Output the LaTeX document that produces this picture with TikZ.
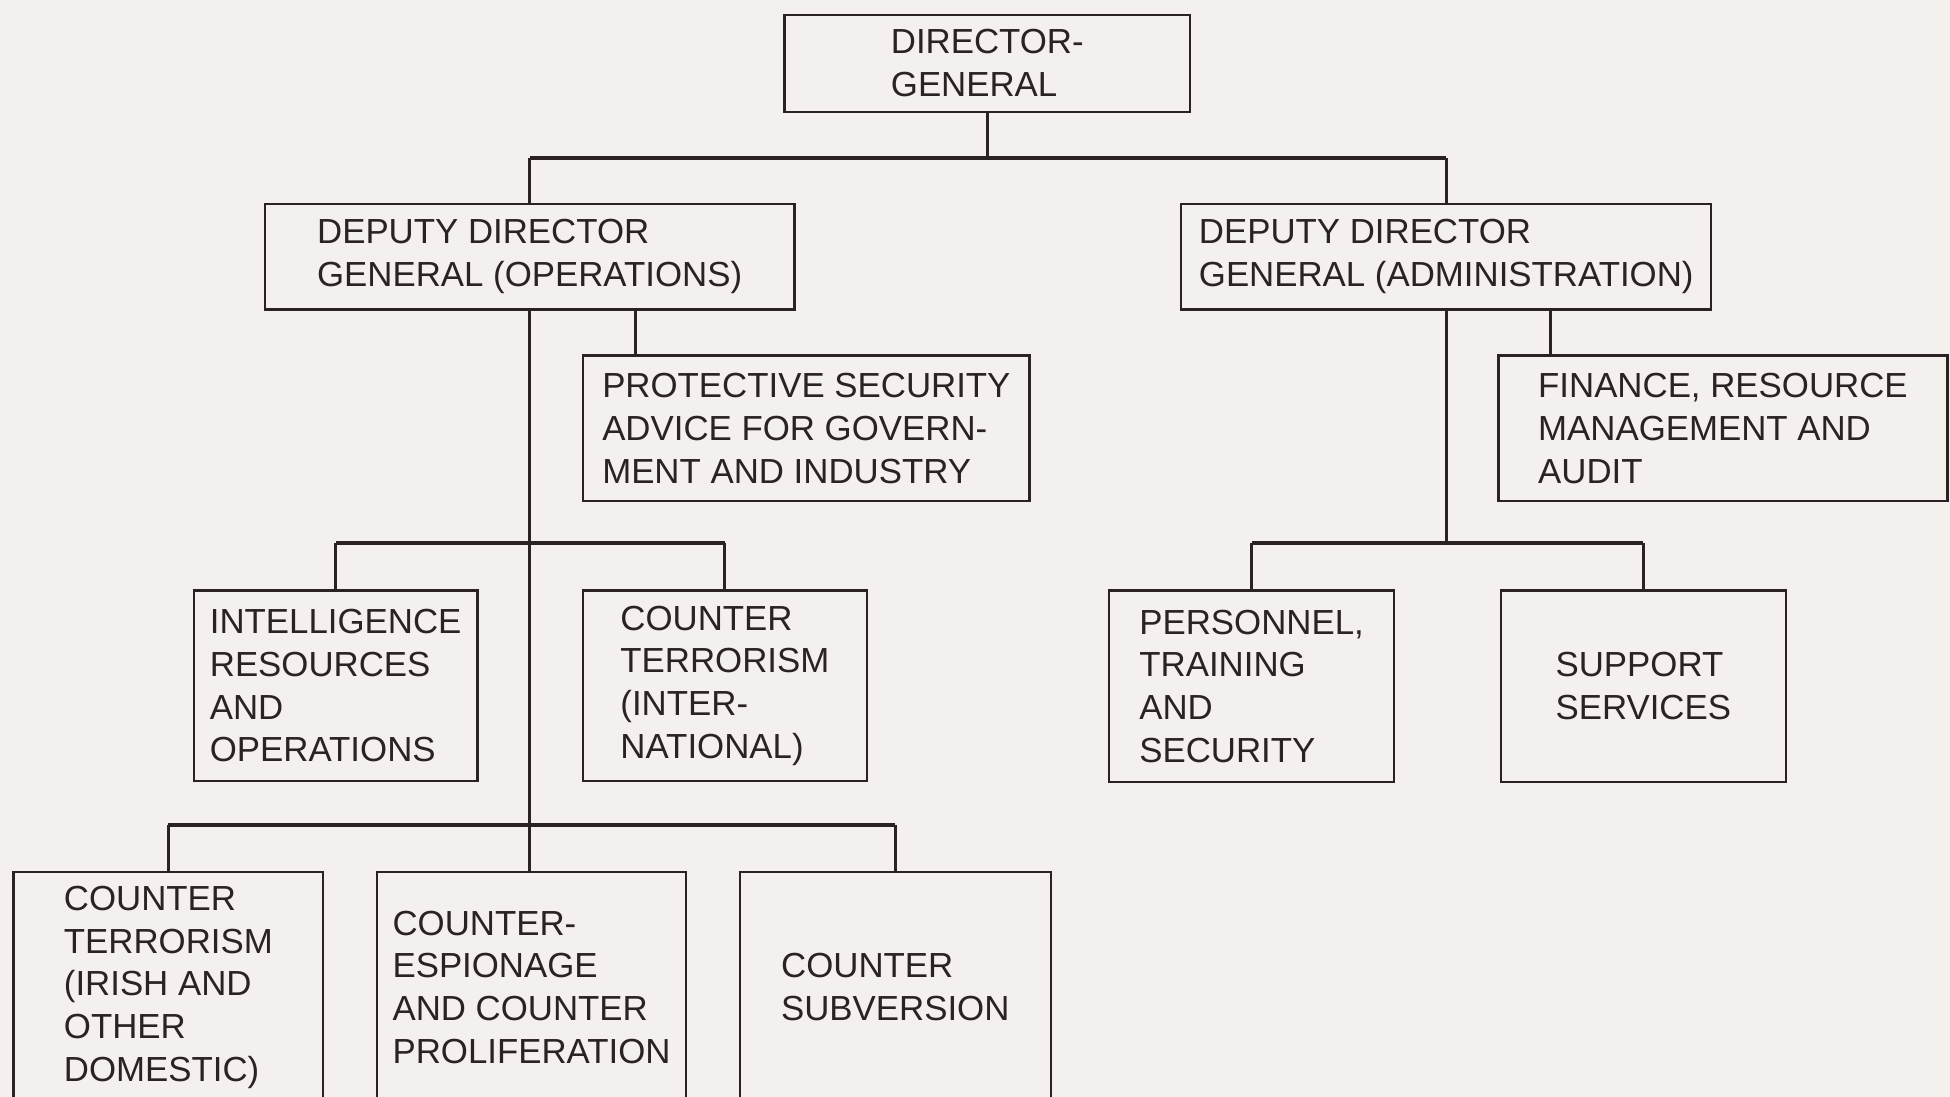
\documentclass[tikz,border=0pt]{standalone}
\usepackage{fontspec}
\setmainfont{Liberation Sans}
\definecolor{bg}{HTML}{F3F0EE}
\definecolor{ink}{HTML}{2A2223}
\begin{document}
\begin{tikzpicture}[x=0.5pt,y=-0.5pt,
  box/.style={draw=ink,line width=0.9pt,rectangle,inner sep=0pt,align=left,
    text=ink,font=\fontsize{14}{17.2}\selectfont,anchor=north west},
  wire/.style={draw=ink,line width=1.2pt},
  bar/.style={draw=ink,line width=1.6pt}]
\fill[bg] (0,0) rectangle (1568,882);
\clip (0,0) rectangle (1568,882);
% boxes
\node[box,minimum width=163pt,minimum height=39pt] (dg) at (630,11) {DIRECTOR-\\GENERAL};
\node[box,minimum width=213pt,minimum height=42.5pt] (ops) at (212,163) {DEPUTY DIRECTOR\\GENERAL (OPERATIONS)};
\node[box,minimum width=213pt,minimum height=42.5pt] (adm) at (949,163) {DEPUTY DIRECTOR\\GENERAL (ADMINISTRATION)};
\node[box,minimum width=179.5pt,minimum height=58.5pt] (prot) at (468,285) {PROTECTIVE SECURITY\\ADVICE FOR GOVERN-\\MENT AND INDUSTRY};
\node[box,minimum width=180.5pt,minimum height=58.5pt] (fin) at (1204,285) {FINANCE, RESOURCE\\MANAGEMENT AND\\AUDIT};
\node[box,minimum width=114pt,minimum height=76.5pt] (intel) at (155,474) {INTELLIGENCE\\RESOURCES\\AND\\OPERATIONS};
\node[box,minimum width=114pt,minimum height=76.5pt] (cti) at (468,474) {COUNTER\\TERRORISM\\(INTER-\\NATIONAL)};
\node[box,minimum width=114.5pt,minimum height=77pt] (pers) at (891,474) {PERSONNEL,\\TRAINING\\AND\\SECURITY};
\node[box,minimum width=114.5pt,minimum height=77pt] (supp) at (1206,474) {SUPPORT\\SERVICES};
\node[box,minimum width=124.5pt,minimum height=93pt] (ctirish) at (10,700) {COUNTER\\TERRORISM\\(IRISH AND\\OTHER\\DOMESTIC)};
\node[box,minimum width=124.5pt,minimum height=93pt] (ce) at (302,700) {COUNTER-\\ESPIONAGE\\AND COUNTER\\PROLIFERATION};
\node[box,minimum width=125pt,minimum height=93pt] (cs) at (594,700) {COUNTER\\SUBVERSION};
% junction coordinates
\coordinate (j1) at (dg.south |- 0,127);
\coordinate (j2) at (ops.south |- 0,437);
\coordinate (j3) at (ops.south |- 0,663);
\coordinate (j4) at (adm.south |- 0,437);
% top level
\draw[wire] (dg.south) -- (j1);
\draw[bar] (j1 -| ops.north) -- (j1 -| adm.north);
\draw[wire] (j1 -| ops.north) -- (ops.north);
\draw[wire] (j1 -| adm.north) -- (adm.north);
% operations
\draw[wire] (ops.south) -- (j3);
\draw[wire] (ops.south -| 511,0) -- (prot.north -| 511,0);
\draw[bar] (j2 -| intel.north) -- (j2 -| cti.north);
\draw[wire] (j2 -| intel.north) -- (intel.north);
\draw[wire] (j2 -| cti.north) -- (cti.north);
\draw[bar] (j3 -| ctirish.north) -- (j3 -| cs.north);
\draw[wire] (j3 -| ctirish.north) -- (ctirish.north);
\draw[wire] (j3) -- (ce.north -| j3);
\draw[wire] (j3 -| cs.north) -- (cs.north);
% administration
\draw[wire] (adm.south) -- (j4);
\draw[wire] (adm.south -| 1247,0) -- (fin.north -| 1247,0);
\draw[bar] (j4 -| pers.north) -- (j4 -| supp.north);
\draw[wire] (j4 -| pers.north) -- (pers.north);
\draw[wire] (j4 -| supp.north) -- (supp.north);
\end{tikzpicture}
\end{document}
